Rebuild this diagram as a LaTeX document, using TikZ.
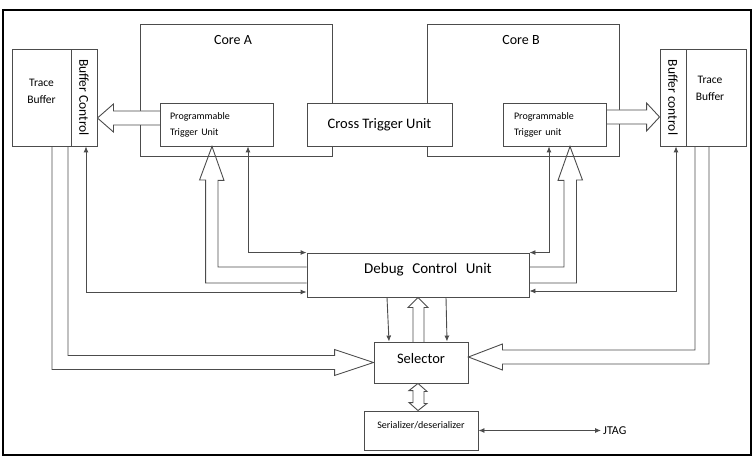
\documentclass[tikz,border=0pt]{standalone}
\usepackage{fontspec}
\setmainfont{Carlito}
\usetikzlibrary{arrows.meta,calc}
\begin{document}
\begin{tikzpicture}[x=1pt,y=-1pt,
  ln/.style={draw=black!70, line width=0.9pt},
  blk/.style={ln, rectangle, inner sep=0pt, fill=white},
  dblarr/.style={ln, {Latex[length=6pt,width=5pt]}-{Latex[length=6pt,width=5pt]}},
  onearr/.style={ln, -{Latex[length=6pt,width=5pt]}},
  fat/.style={ln, line join=miter}
]
\useasboundingbox (0,0) rectangle (754,462);
\draw[black, line width=1.6pt] (3,10) rectangle (751,455);

% cores
\node[blk, minimum width=192pt, minimum height=132pt] (coreA) at (236,90) {};
\node[blk, minimum width=192pt, minimum height=132pt] (coreB) at (523,90) {};
\node[font=\fontsize{14}{16}\selectfont] (coreAt) at ([shift={(-3pt,-16pt)}]coreA.north) {Core A};
\node[font=\fontsize{14}{16}\selectfont] (coreBt) at ([shift={(-2pt,-16pt)}]coreB.north) {Core B};

% buffers
\node[blk, minimum width=59pt, minimum height=97pt,
  label={[align=center, font=\fontsize{11.5}{17}\selectfont, yshift=6pt]center:Trace\\Buffer}] (tbL) at (41.5,97.5) {};
\node[blk, minimum width=26pt, minimum height=97pt,
  label={[rotate=-90, font=\fontsize{13.5}{16}\selectfont]center:Buffer Control}] (bcL) at (84,97.5) {};
\node[blk, minimum width=26pt, minimum height=97pt,
  label={[rotate=-90, font=\fontsize{13.5}{16}\selectfont]center:Buffer control}] (bcR) at (673,97.5) {};
\node[blk, minimum width=60pt, minimum height=97pt,
  label={[align=center, font=\fontsize{11.5}{17}\selectfont, shift={(-6pt,9.5pt)}]center:Trace\\Buffer}] (tbR) at (716,97.5) {};

% fat horizontal arrows PTU -> buffer control
\coordinate (tipL) at ([yshift=-20.5pt]bcL.east);
\coordinate (tipRB) at ([yshift=-19.5pt]bcR.west);
\draw[fat, fill=white] ($(tipL)+(63,-7)$) -- ++(-47,0) -- ++(0,-7) -- (tipL) -- ++(16,14) -- ++(0,-7) -- ++(47,0) -- cycle;
\draw[fat, fill=white] ($(tipRB)+(-54,-7)$) -- ++(41,0) -- ++(0,-7) -- (tipRB) -- ++(-13,14) -- ++(0,-7) -- ++(-41,0) -- cycle;

% inner units
\node[blk, minimum width=145pt, minimum height=43pt, font=\fontsize{14.5}{17}\selectfont] (ctu) at (379.5,124.5) {Cross Trigger Unit};
\node[blk, minimum height=43pt, inner xsep=10pt, text width=93pt, align=left, font=\fontsize{10}{16}\selectfont] (ptuA) at (216.5,124.5) {Programmable\\Trigger Unit};
\node[blk, minimum height=43pt, inner xsep=11pt, text width=81pt, align=left, font=\fontsize{10}{16}\selectfont] (ptuB) at (554.5,124.5) {Programmable\\Trigger unit};

% lower blocks
\node[blk, minimum width=222pt, minimum height=44pt,
  label={[font=\fontsize{15}{18}\selectfont, shift={(10pt,5pt)}]center:Debug\hspace{0.57em}Control\hspace{0.57em}Unit}] (dcu) at (418,275) {};
\node[blk, minimum width=94pt, minimum height=41pt,
  label={[font=\fontsize{14.5}{17}\selectfont, yshift=4pt]center:Selector}] (sel) at (421,362.5) {};
\node[blk, minimum width=114pt, minimum height=39pt,
  label={[font=\fontsize{10}{12}\selectfont, yshift=5.5pt]center:Serializer/deserializer}] (ser) at (421,430.5) {};
\node[anchor=west, inner sep=2pt, font=\fontsize{12}{14}\selectfont] (jtag) at (601,430.5) {JTAG};

% thin connectors
\draw[dblarr] ([xshift=31.5pt]ptuA.south) |- (dcu.north west);
\draw[dblarr] ([xshift=2pt]bcL.south) |- ([yshift=-17pt]dcu.west);
\draw[dblarr] ([xshift=-5.5pt]ptuB.south) |- (dcu.north east);
\draw[dblarr] ([xshift=3pt]bcR.south) |- ([yshift=-16pt]dcu.east);
\draw[onearr] ([xshift=-31pt]dcu.south) -- ([xshift=-32pt]sel.north);
\draw[onearr] ([xshift=28pt]dcu.south) -- ([xshift=26pt]sel.north);
\draw[dblarr] (ser.east) -- (jtag.west);

% fat arrows up to PTUs
\coordinate (tipA) at ([xshift=-4.5pt]ptuA.south);
\coordinate (tipB) at ([xshift=15.5pt]ptuB.south);
\draw[fat] ([yshift=-8pt]dcu.west) -| ++(-101,-103) -- ++(-6,0) -- (tipA) -- ++(12,34) -- ++(-6,0) |- ([yshift=8pt]dcu.west);
\draw[fat] ([yshift=-8pt]dcu.east) -| ++(47,-103) -- ++(6,0) -- (tipB) -- ++(-12,34) -- ++(6,0) |- ([yshift=8pt]dcu.east);

% fat arrows trace buffers -> selector
\coordinate (tipR) at ([yshift=5.5pt]sel.east);
\draw[fat] ([xshift=10.5pt]tbL.south) |- ([shift={(-39pt,-7pt)}]sel.west) -- ++(0,6) -- (sel.west) -- ++(-39,-13) -- ++(0,6) -| ([xshift=26.5pt]tbL.south);
\draw[fat] ([xshift=-7pt]tbR.south) |- ($(tipR)+(34,7)$) -- ++(0,6) -- (tipR) -- ++(34,-13) -- ++(0,6) -| ([xshift=-21pt]tbR.south);

% fat arrow selector -> dcu
\coordinate (tipU) at (dcu.south);
\draw[fat] ($(tipU)+(-5,45)$) -- ++(0,-35) -- ++(-5,0) -- (tipU) -- ++(10,10) -- ++(-4,0) -- ++(0,35);

% double fat arrow selector <-> serializer
\coordinate (tipT) at ([xshift=-3pt]sel.south);
\coordinate (tipS) at ([xshift=-3pt]ser.north);
\draw[fat, fill=white] (tipT) -- ++(9,8) -- ++(-3,0) -- ++(0,12) -- ++(3,0) -- (tipS) -- ++(-9,-8) -- ++(4,0) -- ++(0,-12) -- ++(-4,0) -- cycle;
\end{tikzpicture}
\end{document}
